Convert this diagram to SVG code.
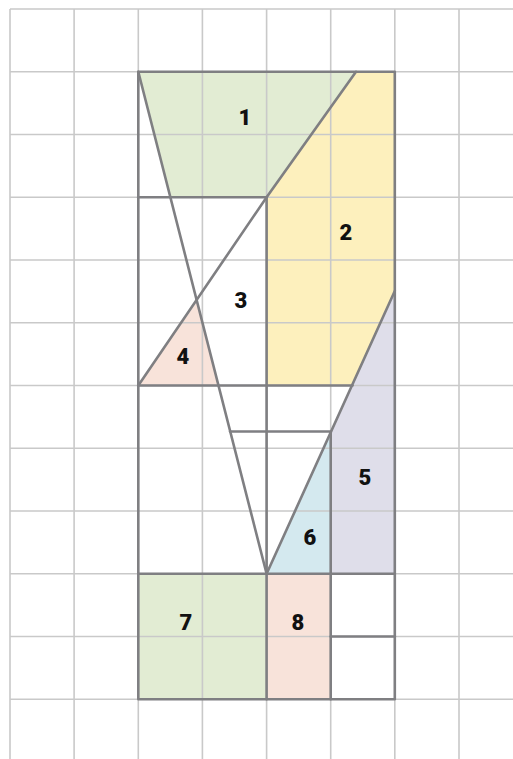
<svg xmlns="http://www.w3.org/2000/svg" width="513" height="759" viewBox="0 0 513 759">
<style>
.grid{stroke:#c9c9c9;stroke-width:1.6;fill:none}
.edge{stroke:#7f7f82;stroke-width:2.6;fill:none;stroke-linejoin:round;stroke-linecap:round}
.lbl{font-family:Roboto,"Liberation Sans",Arial,sans-serif;font-weight:900;font-size:22px;fill:#111;text-anchor:middle;dominant-baseline:central}
</style>
<rect width="513" height="759" fill="#fff"/>
<g id="fills">
<g id="n1"><polygon points="138.3,71.75 356,71.75 266.6,197.25 170.4,197.25" fill="#e2ecd3"/></g>
<g id="n2"><polygon points="356,71.75 394.8,71.75 394.8,291 352.5,385.5 266.6,385.5 266.6,197.25" fill="#fdf0bd"/></g>
<g id="n4"><polygon points="138.3,385.5 197.5,301 218.5,385.5" fill="#f8e3da"/></g>
<g id="n5"><polygon points="394.8,291 394.8,573.75 330.7,573.75 330.7,432.6" fill="#dfdeea"/></g>
<g id="n6"><polygon points="266.6,573.75 330.7,432.6 330.7,573.75" fill="#d4e9ef"/></g>
<g id="n7"><rect x="138.3" y="573.75" width="128.3" height="125.5" fill="#e2ecd3"/></g>
<g id="n8"><rect x="266.6" y="573.75" width="64.1" height="125.5" fill="#f8e3da"/></g>
</g>
<g id="grid" class="grid">
<path d="M10,9V759M74.1,9V759M138.3,9V759M202.4,9V759M266.6,9V759M330.7,9V759M394.8,9V759M459,9V759"/>
<path d="M10,9H513M10,71.75H513M10,134.5H513M10,197.25H513M10,260H513M10,322.75H513M10,385.5H513M10,448.25H513M10,511H513M10,573.75H513M10,636.5H513M10,699.25H513"/>
</g>
<g id="connectors" class="edge">
<rect x="138.3" y="71.75" width="256.5" height="627.5"/>
<path d="M138.3,71.75L266.6,573.75"/>
<path d="M138.3,385.5L266.6,197.25L356,71.75"/>
<path d="M394.8,291L266.6,573.75"/>
<path d="M138.3,197.25H266.6"/>
<path d="M138.3,385.5H352.5"/>
<path d="M230.1,431.5H330.7"/>
<path d="M266.6,197.25V699.25"/>
<path d="M330.7,432.6V699.25"/>
<path d="M138.3,573.75H394.8"/>
<path d="M330.7,636.5H394.8"/>
</g>
<g id="labels">
<text class="lbl" x="245" y="117">1</text>
<text class="lbl" x="346" y="232">2</text>
<text class="lbl" x="241" y="300">3</text>
<text class="lbl" x="183" y="356">4</text>
<text class="lbl" x="365" y="477">5</text>
<text class="lbl" x="310" y="537">6</text>
<text class="lbl" x="186" y="622">7</text>
<text class="lbl" x="298" y="622">8</text>
</g>
</svg>
